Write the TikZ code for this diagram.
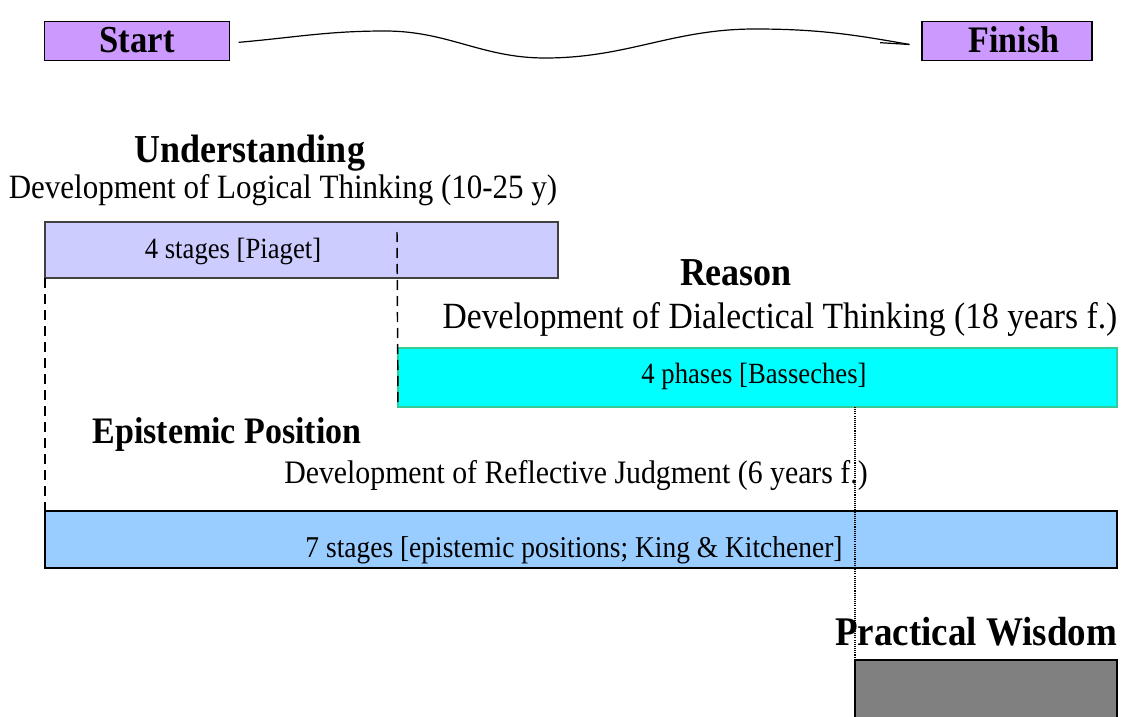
\documentclass[tikz,border=0pt]{standalone}
\usepackage{graphicx}
\usepackage{fontspec}
\setmainfont{Liberation Serif}
\usetikzlibrary{arrows.meta}
\definecolor{purp}{HTML}{CC99FF}
\definecolor{lav}{HTML}{CCCCFF}
\definecolor{cyanb}{HTML}{00FFFF}
\definecolor{cyanedge}{HTML}{33CC99}
\definecolor{skyb}{HTML}{99CCFF}
\definecolor{grayb}{HTML}{808080}
\newcommand{\vstr}[1]{\scalebox{1}[1.1]{#1}}
\tikzset{
  x=0.75pt, y=-0.75pt,
  box/.style={inner sep=0pt, outer sep=0pt, line width=1.1pt},
  endbox/.style={box, draw=black, fill=purp},
  txt/.style={inner sep=0pt, anchor=base},
  head/.style={txt, font=\fontsize{27}{30}\selectfont\bfseries},
  boxtxt/.style={txt, font=\fontsize{20}{24}\selectfont},
  dashline/.style={line width=1.1pt, dash pattern=on 7.5pt off 4.5pt},
  dotline/.style={line width=0.8pt, dash pattern=on 0.8pt off 0.8pt},
}
\begin{document}
\begin{tikzpicture}
\useasboundingbox (0,0) rectangle (1122,717);
% top boxes
\node[endbox, minimum width=139pt, minimum height=29pt] (start) at (137,41) {};
\node[txt, font=\fontsize{26}{30}\selectfont\bfseries] (starttxt) at (137,53) {\vstr{Start}};
\node[endbox, minimum width=127.5pt, minimum height=29pt] (finish) at (1007,41) {};
\node[txt, font=\fontsize{25.5}{30}\selectfont\bfseries] (finishtxt) at (1014,53) {\vstr{Finish}};
% wave connector
\coordinate (w0) at ([xshift=6.75pt,yshift=-1pt]start.east);
\coordinate (w1) at (385,31);
\coordinate (w2) at (545,58);
\coordinate (w3) at (755,29);
\coordinate (w4) at ([xshift=-1.5pt,yshift=-4pt]finish.west);
\draw[line width=0.9pt, -{Straight Barb[harpoon,swap,length=22pt,width=5pt]}]
  (w0) to[out=5,in=180] (w1) to[out=0,in=180] (w2) to[out=0,in=180] (w3) to[out=0,in=170] (w4);
% Understanding
\node[head] (und) at (250,162) {\vstr{Understanding}};
\node[txt, font=\fontsize{23.25}{28}\selectfont] (undsub) at (283,198) {\vstr{Development of Logical Thinking (10-25 y)}};
\node[box, draw=black!75, fill=lav, minimum width=384.75pt, minimum height=42pt] (piaget) at (301.5,250) {};
\node[boxtxt] (piagettxt) at (233,258) {\vstr{4 stages [Piaget]}};
% Reason
\node[head] (rea) at (736,285) {\vstr{Reason}};
\node[txt, font=\fontsize{25.2}{30}\selectfont] (reasub) at (780,328) {\vstr{Development of Dialectical Thinking (18 years f.)}};
\node[box, draw=cyanedge, fill=cyanb, minimum width=539.25pt, minimum height=44.25pt] (bass) at (757.5,377.5) {};
\node[boxtxt] (basstxt) at (754,383) {\vstr{4 phases [Basseches]}};
% Epistemic
\node[head, font=\fontsize{25.5}{30}\selectfont\bfseries] (epi) at (227,443) {\vstr{Epistemic Position}};
\node[txt, font=\fontsize{22.35}{28}\selectfont] (episub) at (576,483) {\vstr{Development of Reflective Judgment (6 years f.)}};
\node[box, draw=black, fill=skyb, minimum width=804pt, minimum height=42.75pt] (king) at (581,539.5) {};
\node[boxtxt, font=\fontsize{20.6}{24}\selectfont] (kingtxt) at (574,557) {\vstr{7 stages [epistemic positions; King \& Kitchener]}};
% Practical wisdom
\node[head, font=\fontsize{27.75}{30}\selectfont\bfseries] (pw) at (976,645) {\vstr{Practical Wisdom}};
\node[box, draw=black, fill=grayb, minimum width=196.5pt, minimum height=52.5pt] (gray) at (986,695) {};
% guide lines
\coordinate (d1) at (397,232);
\draw[dashline] (d1) -- (bass.south west);
\draw[dashline] (piaget.south west) -- (king.north west);
\coordinate (d2) at (gray.north west |- bass.south);
\draw[dotline] (d2) -- (gray.north west);
\end{tikzpicture}
\end{document}
